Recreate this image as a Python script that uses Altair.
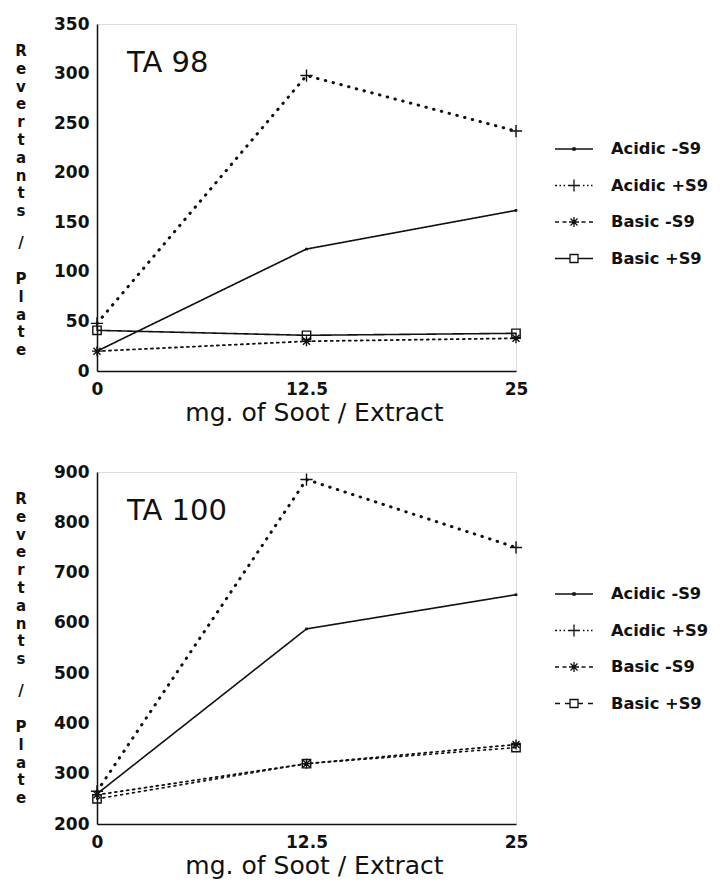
import altair as alt
import pandas as pd

# ---------------- data ----------------
doses = [0, 12.5, 25]
series = ["Acidic -S9", "Acidic +S9", "Basic -S9", "Basic +S9"]

ta98_acidic_minus = [20, 123, 162]
ta98_acidic_plus = [48, 298, 242]
ta98_basic_minus = [20, 30, 33]
ta98_basic_plus = [41, 36, 38]

ta100_acidic_minus = [260, 588, 656]
ta100_acidic_plus = [265, 885, 750]
ta100_basic_minus = [258, 320, 358]
ta100_basic_plus = [250, 320, 352]

x_ticks = [0, 12.5, 25]
y_ticks_98 = [0, 50, 100, 150, 200, 250, 300, 350]
y_ticks_100 = [200, 300, 400, 500, 600, 700, 800, 900]

y_title_words = ["Revertants", "/", "Plate"]
x_title = "mg. of Soot / Extract"

# ---------------- styles ----------------
FONT = "DejaVu Sans"
INK = "#111111"

marker_paths = {
    "Acidic -S9": "M-0.5,-0.5H0.5V0.5H-0.5Z",
    "Acidic +S9": "M-1,0H1M0,-1V1",
    "Basic -S9": "M-1,0H1M0,-1V1M-0.7,-0.7L0.7,0.7M-0.7,0.7L0.7,-0.7",
    "Basic +S9": "M-1,-1H1V1H-1Z",
}
marker_sizes = {"Acidic -S9": 6, "Acidic +S9": 150, "Basic -S9": 100, "Basic +S9": 70}
line_widths = {"Acidic -S9": 1.6, "Acidic +S9": 3.0, "Basic -S9": 1.8, "Basic +S9": 1.6}

dash_top = [[1, 0], [0.5, 7.5], [2, 4], [1, 0]]
dash_bottom = [[1, 0], [0.5, 7.5], [2, 4], [2, 4]]

leg_acid_minus = "M-1.9,0H1.9M-0.1,-0.1H0.1V0.1H-0.1Z"
leg_acid_plus = ("M-1.9,0H-1.7M-1.45,0H-1.3M-1.05,0H-0.9M-0.6,0H0.6M0,-0.6V0.6"
                 "M0.9,0H1.05M1.3,0H1.45M1.7,0H1.85")
leg_basic_minus = ("M-1.9,0H-1.5M-1.15,0H-0.75M-0.5,0H0.5M0,-0.5V0.5"
                   "M-0.35,-0.35L0.35,0.35M-0.35,0.35L0.35,-0.35M0.75,0H1.15M1.5,0H1.9")
leg_basic_plus_solid = "M-1.9,0H-0.4M0.4,0H1.9M-0.4,-0.4H0.4V0.4H-0.4Z"
leg_basic_plus_dash = "M-1.9,0H-1.4M-0.9,0H-0.4M0.4,0H0.9M1.4,0H1.9M-0.4,-0.4H0.4V0.4H-0.4Z"

legend_top = [leg_acid_minus, leg_acid_plus, leg_basic_minus, leg_basic_plus_solid]
legend_bottom = [leg_acid_minus, leg_acid_plus, leg_basic_minus, leg_basic_plus_dash]

# placement of the stacked y-title pieces (offsets from the plot's top edge)
ytitle_offsets = [20, 212, 248]
LINE_H = 17.8


def stacked_label(word, yoff):
    return alt.Chart(pd.DataFrame({"t": ["\n".join(list(word))]})).mark_text(
        align="center", baseline="top", font=FONT, fontSize=15, fontWeight="bold",
        color=INK, lineBreak="\n", lineHeight=LINE_H
    ).encode(x=alt.value(-76), y=alt.value(yoff), text="t:N")


def panel(values, ydomain, yticks, label, dashes, legend_paths, height, legend_y):
    rows = []
    for s, vals in zip(series, values):
        for d, v in zip(doses, vals):
            rows.append({"dose": d, "revertants": v, "series": s,
                         "marker": marker_paths[s], "msize": marker_sizes[s],
                         "lw": line_widths[s]})
    df = pd.DataFrame(rows)

    x = alt.X("dose:Q", scale=alt.Scale(domain=[0, 25], nice=False, zero=False),
              axis=alt.Axis(values=x_ticks, format=".3~r", title=x_title,
                            titleFont=FONT, titleFontSize=25, titleFontWeight="normal",
                            titleColor=INK, titlePadding=3, titleX=217, titleAlign="center",
                            labelPadding=10,
                            labelFlush=False, ticks=False, grid=False,
                            labelFont=FONT, labelFontSize=17, labelFontWeight="bold",
                            labelColor=INK, domainColor=INK, domainWidth=1.5))
    y = alt.Y("revertants:Q", scale=alt.Scale(domain=ydomain, nice=False, zero=False),
              axis=alt.Axis(values=yticks, title=None, labelPadding=8,
                            labelFlush=False, ticks=False, grid=False,
                            labelFont=FONT, labelFontSize=17, labelFontWeight="bold",
                            labelColor=INK, domainColor=INK, domainWidth=1.5))

    base = alt.Chart(df)
    lines = base.mark_line(color=INK, strokeCap="round").encode(
        x=x, y=y, detail="series:N",
        strokeDash=alt.StrokeDash("series:N", scale=alt.Scale(domain=series, range=dashes),
                                  legend=None),
        strokeWidth=alt.StrokeWidth("lw:Q", scale=None),
    )
    points = base.mark_point(color=INK, filled=False, strokeWidth=1.4, opacity=1).encode(
        x=x, y=y,
        shape=alt.Shape("marker:N", scale=None),
        size=alt.Size("msize:Q", scale=None),
    )
    legend_layer = base.transform_filter("false").mark_point(
        color=INK, filled=False, strokeWidth=1.3, opacity=1).encode(
        x=x, y=y,
        shape=alt.Shape("series:N", scale=alt.Scale(domain=series, range=legend_paths),
                        legend=alt.Legend(orient="none", legendX=466, legendY=legend_y,
                                          title=None, symbolSize=400,
                                          symbolStrokeColor=INK, symbolStrokeWidth=1.3,
                                          labelFont=FONT, labelFontWeight="bold",
                                          labelFontSize=16.3, labelColor=INK,
                                          labelOffset=26, rowPadding=16.5, padding=0,
                                          symbolOffset=0)),
    )
    text = alt.Chart(pd.DataFrame({"t": [label]})).mark_text(
        align="left", baseline="alphabetic", font=FONT, fontSize=29, color=INK
    ).encode(x=alt.value(30), y=alt.value(48), text="t:N")

    ytitle = [stacked_label(w, o) for w, o in zip(y_title_words, ytitle_offsets)]

    return alt.layer(lines, points, legend_layer, text, *ytitle).resolve_scale(
        shape="independent"
    ).properties(width=419, height=height)


top = panel([ta98_acidic_minus, ta98_acidic_plus, ta98_basic_minus, ta98_basic_plus],
            [0, 350], y_ticks_98, "TA 98", dash_top, legend_top, 347, 114)
bottom = panel([ta100_acidic_minus, ta100_acidic_plus, ta100_basic_minus, ta100_basic_plus],
               [200, 900], y_ticks_100, "TA 100", dash_bottom, legend_bottom, 352, 111)

chart = alt.vconcat(top, bottom, spacing=36).resolve_scale(
    shape="independent", strokeDash="independent"
).properties(
    padding={"left": 6, "top": 6, "right": 0, "bottom": 0}
).configure_view(stroke=INK, strokeWidth=1.5).configure(background="white")

chart.save("out.html", embed_options={"renderer": "svg", "actions": False})
